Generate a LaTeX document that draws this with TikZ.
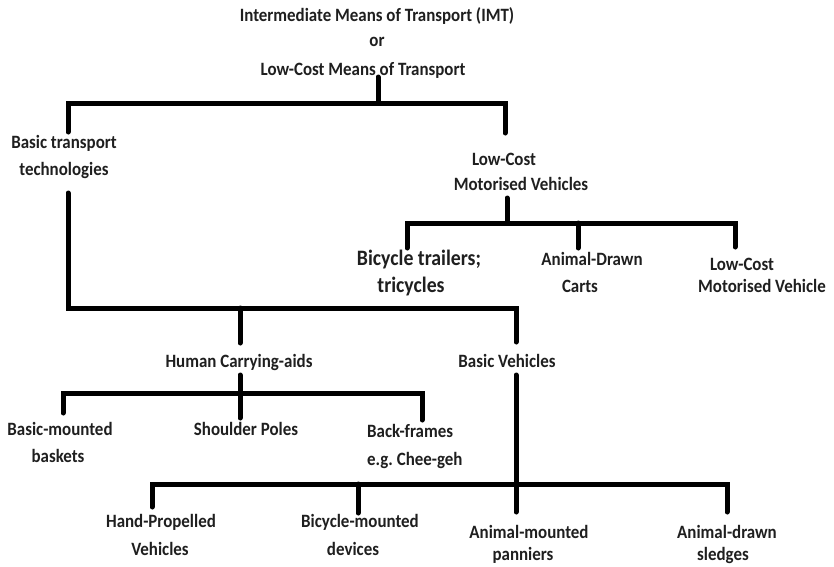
\documentclass[tikz,border=0pt]{standalone}
\usepackage{fontspec}
\setmainfont{Carlito}[FakeStretch=0.9]
\begin{document}
\begin{tikzpicture}[x=1pt,y=-1pt,
  lbl/.style={font=\bfseries\fontsize{18.8}{22}\selectfont, inner sep=0pt, anchor=base, text=black!88},
  biglbl/.style={lbl, font=\bfseries\fontsize{22}{26}\selectfont},
  bar/.style={line width=5pt, black, line cap=round, line join=miter}]
\fill[white] (0,0) rectangle (834,566);
\useasboundingbox (0,0) rectangle (834,566);

% titles
\node[lbl] (t1) at (377,21) {Intermediate Means of Transport (IMT)};
\node[lbl] (t2) at (377,46) {or};
\node[lbl] (t3) at (363,75) {Low-Cost Means of Transport};

% level 1
\node[lbl] (bt1) at (64,148) {Basic transport};
\node[lbl] (bt2) at (64,175) {technologies};
\node[lbl] (lc1) at (504,165) {Low-Cost};
\node[lbl] (lc2) at (521,190) {Motorised Vehicles};

% motorised children
\node[biglbl] (bc1) at (419,265) {Bicycle trailers;};
\node[biglbl] (bc2) at (411,292) {tricycles};
\node[lbl] (ad1) at (592,265) {Animal-Drawn};
\node[lbl] (ad2) at (580,292) {Carts};
\node[lbl] (lv1) at (742,270) {Low-Cost};
\node[lbl] (lv2) at (762,292) {Motorised Vehicle};

% level 2
\node[lbl] (hc) at (239,367) {Human Carrying-aids};
\node[lbl] (bv) at (507,367) {Basic Vehicles};

% human carrying-aids children
\node[lbl] (bm1) at (60,435) {Basic-mounted};
\node[lbl] (bm2) at (58,462) {baskets};
\node[lbl] (sp) at (246,435) {Shoulder Poles};
\node[lbl, anchor=base west] (bf1) at (367,437) {Back-frames};
\node[lbl, anchor=base west] (bf2) at (367,465) {e.g.\ Chee-geh};

% basic vehicles children
\node[lbl] (hp1) at (161,527) {Hand-Propelled};
\node[lbl] (hp2) at (160,555) {Vehicles};
\node[lbl] (bd1) at (360,527) {Bicycle-mounted};
\node[lbl] (bd2) at (353,555) {devices};
\node[lbl] (am1) at (529,538) {Animal-mounted};
\node[lbl] (am2) at (523,560) {panniers};
\node[lbl] (ads1) at (727,538) {Animal-drawn};
\node[lbl] (ads2) at (723,560) {sledges};

% connector end points
\coordinate (tS) at (378,77);
\coordinate (j0) at (378,103);
\coordinate (btN) at (68,132);
\coordinate (btS) at (68,193);
\coordinate (lcN) at (505,133);
\coordinate (lcS) at (507,198);
\coordinate (j1) at (507,223);
\coordinate (bcN) at (407,248);
\coordinate (adN) at (578,248);
\coordinate (lvN) at (735,247);
\coordinate (j2) at (68,308);
\coordinate (hcN) at (240,343);
\coordinate (hcS) at (240,375);
\coordinate (bvN) at (516,342);
\coordinate (bvS) at (516,375);
\coordinate (j3) at (240,393);
\coordinate (bmN) at (63,413);
\coordinate (spN) at (240,418);
\coordinate (bfN) at (422,420);
\coordinate (j4) at (516,484);
\coordinate (hpN) at (152,507);
\coordinate (bdN) at (358,513);
\coordinate (amN) at (516,512);
\coordinate (adsN) at (727,512);

% connectors
\draw[bar] (tS) -- (j0);
\draw[bar] (btN) |- (j0) -| (lcN);
\draw[bar] (lcS) -- (j1);
\draw[bar] (bcN) |- (j1) -| (lvN);
\draw[bar] (adN) -- (adN |- j1);
\draw[bar] (btS) -- (j2) -| (bvN);
\draw[bar] (hcN) -- (hcN |- j2);
\draw[bar] (hcS) -- (spN);
\draw[bar] (bmN) |- (j3) -| (bfN);
\draw[bar] (bvS) -- (amN);
\draw[bar] (hpN) |- (j4) -| (adsN);
\draw[bar] (bdN) -- (bdN |- j4);
\end{tikzpicture}
\end{document}
